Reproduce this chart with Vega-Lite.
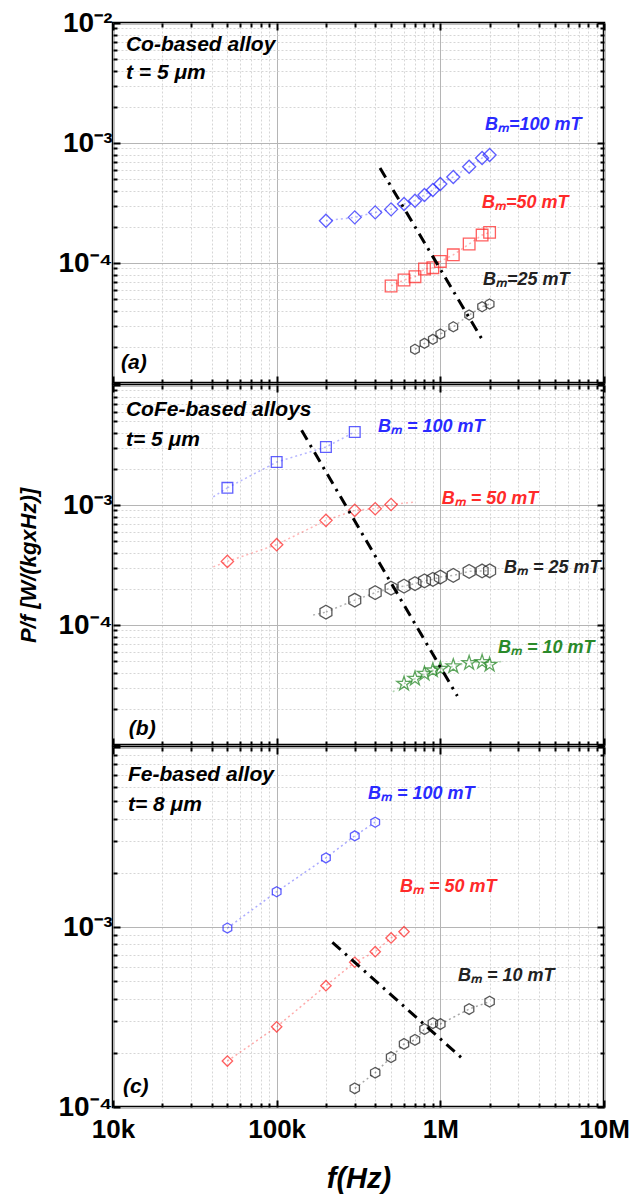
{
 "$schema": "https://vega.github.io/schema/vega-lite/v6.json",
 "background": "white",
 "padding": {"left": 15, "top": 7, "right": 5, "bottom": 3},
 "config": {
  "view": {"stroke": "black", "strokeWidth": 2.5},
  "font": "Liberation Sans",
  "axis": {"labelFont": "Liberation Sans", "titleFont": "Liberation Sans", "labelColor": "black", "titleColor": "black", "labelFontWeight": "bold", "titleFontWeight": "bold"}
 },
 "datasets": {
  "pts": [
   {"p":"a","B":100,"f":200000,"P":0.000225},{"p":"a","B":100,"f":300000,"P":0.00024},{"p":"a","B":100,"f":400000,"P":0.000264},{"p":"a","B":100,"f":500000,"P":0.00028},{"p":"a","B":100,"f":600000,"P":0.00031},{"p":"a","B":100,"f":700000,"P":0.00033},{"p":"a","B":100,"f":800000,"P":0.000369},{"p":"a","B":100,"f":900000,"P":0.000406},{"p":"a","B":100,"f":1000000,"P":0.000455},{"p":"a","B":100,"f":1200000,"P":0.000521},{"p":"a","B":100,"f":1500000,"P":0.000634},{"p":"a","B":100,"f":1800000,"P":0.00075},{"p":"a","B":100,"f":2000000,"P":0.000794},
   {"p":"a","B":50,"f":500000,"P":0.0000643},{"p":"a","B":50,"f":600000,"P":0.0000722},{"p":"a","B":50,"f":700000,"P":0.0000769},{"p":"a","B":50,"f":800000,"P":0.0000891},{"p":"a","B":50,"f":900000,"P":0.0000914},{"p":"a","B":50,"f":1000000,"P":0.000103},{"p":"a","B":50,"f":1200000,"P":0.000117},{"p":"a","B":50,"f":1500000,"P":0.000144},{"p":"a","B":50,"f":1800000,"P":0.000171},{"p":"a","B":50,"f":2000000,"P":0.00018},
   {"p":"a","B":25,"f":700000,"P":0.0000191},{"p":"a","B":25,"f":800000,"P":0.0000214},{"p":"a","B":25,"f":900000,"P":0.0000231},{"p":"a","B":25,"f":1000000,"P":0.0000256},{"p":"a","B":25,"f":1200000,"P":0.0000294},{"p":"a","B":25,"f":1500000,"P":0.0000369},{"p":"a","B":25,"f":1800000,"P":0.0000432},{"p":"a","B":25,"f":2000000,"P":0.0000455},
   {"p":"b","B":100,"f":50000,"P":0.00139},{"p":"b","B":100,"f":100000,"P":0.00228},{"p":"b","B":100,"f":200000,"P":0.00304},{"p":"b","B":100,"f":300000,"P":0.00406},
   {"p":"b","B":50,"f":50000,"P":0.000339},{"p":"b","B":50,"f":100000,"P":0.000467},{"p":"b","B":50,"f":200000,"P":0.000745},{"p":"b","B":50,"f":300000,"P":0.000903},{"p":"b","B":50,"f":400000,"P":0.000931},{"p":"b","B":50,"f":500000,"P":0.00101},
   {"p":"b","B":25,"f":200000,"P":0.000128},{"p":"b","B":25,"f":300000,"P":0.000161},{"p":"b","B":25,"f":400000,"P":0.000186},{"p":"b","B":25,"f":500000,"P":0.000203},{"p":"b","B":25,"f":600000,"P":0.000211},{"p":"b","B":25,"f":700000,"P":0.000221},{"p":"b","B":25,"f":800000,"P":0.000233},{"p":"b","B":25,"f":900000,"P":0.00024},{"p":"b","B":25,"f":1000000,"P":0.000251},{"p":"b","B":25,"f":1200000,"P":0.000259},{"p":"b","B":25,"f":1500000,"P":0.00028},{"p":"b","B":25,"f":1800000,"P":0.000282},{"p":"b","B":25,"f":2000000,"P":0.000283},
   {"p":"b","B":10,"f":600000,"P":0.0000324},{"p":"b","B":10,"f":700000,"P":0.0000357},{"p":"b","B":10,"f":800000,"P":0.0000393},{"p":"b","B":10,"f":900000,"P":0.0000419},{"p":"b","B":10,"f":1000000,"P":0.0000432},{"p":"b","B":10,"f":1200000,"P":0.0000453},{"p":"b","B":10,"f":1500000,"P":0.0000483},{"p":"b","B":10,"f":1800000,"P":0.0000492},{"p":"b","B":10,"f":2000000,"P":0.0000467},
   {"p":"c","B":100,"f":50000,"P":0.000987},{"p":"c","B":100,"f":100000,"P":0.00157},{"p":"c","B":100,"f":200000,"P":0.00242},{"p":"c","B":100,"f":300000,"P":0.00321},{"p":"c","B":100,"f":400000,"P":0.00382},
   {"p":"c","B":50,"f":50000,"P":0.00018},{"p":"c","B":50,"f":100000,"P":0.000279},{"p":"c","B":50,"f":200000,"P":0.000472},{"p":"c","B":50,"f":300000,"P":0.000637},{"p":"c","B":50,"f":400000,"P":0.000729},{"p":"c","B":50,"f":500000,"P":0.000869},{"p":"c","B":50,"f":600000,"P":0.000942},
   {"p":"c","B":10,"f":300000,"P":0.000127},{"p":"c","B":10,"f":400000,"P":0.000155},{"p":"c","B":10,"f":500000,"P":0.000189},{"p":"c","B":10,"f":600000,"P":0.000224},{"p":"c","B":10,"f":700000,"P":0.000236},{"p":"c","B":10,"f":800000,"P":0.000271},{"p":"c","B":10,"f":900000,"P":0.000292},{"p":"c","B":10,"f":1000000,"P":0.000289},{"p":"c","B":10,"f":1500000,"P":0.00035},{"p":"c","B":10,"f":2000000,"P":0.000385}
  ],
  "fits": [
   {"p":"b","B":100,"s":"b100l","f":41000,"P":0.00117},{"p":"b","B":100,"s":"b100l","f":50000,"P":0.00139},
   {"p":"b","B":50,"s":"b50l","f":41000,"P":0.000305},{"p":"b","B":50,"s":"b50l","f":50000,"P":0.000339},
   {"p":"b","B":50,"s":"b50r","f":500000,"P":0.00101},{"p":"b","B":50,"s":"b50r","f":700000,"P":0.00106},
   {"p":"b","B":25,"s":"b25l","f":167000,"P":0.000121},{"p":"b","B":25,"s":"b25l","f":200000,"P":0.000128},
   {"p":"b","B":10,"s":"b10l","f":513000,"P":0.0000277},{"p":"b","B":10,"s":"b10l","f":600000,"P":0.0000324},
   {"p":"b","B":10,"s":"b10r","f":2000000,"P":0.0000467},{"p":"b","B":10,"s":"b10r","f":2410000,"P":0.0000501}
  ],
  "guides": [
   {"p":"a","f":428000,"P":0.000619},{"p":"a","f":1820000,"P":0.0000225},
   {"p":"b","f":142000,"P":0.00419},{"p":"b","f":1270000,"P":0.0000256},
   {"p":"c","f":219000,"P":0.000822},{"p":"c","f":1390000,"P":0.000183}
  ],
  "labels": [
   {"p":"a","B":100,"t":"Bₘ=100 mT","f":1873000,"P":0.00141},
   {"p":"a","B":50,"t":"Bₘ=50 mT","f":1796000,"P":0.000316},
   {"p":"a","B":25,"t":"Bₘ=25 mT","f":1820000,"P":0.0000722},
   {"p":"b","B":100,"t":"Bₘ = 100 mT","f":416000,"P":0.00447},
   {"p":"b","B":50,"t":"Bₘ = 50 mT","f":1020000,"P":0.00112},
   {"p":"b","B":25,"t":"Bₘ = 25 mT","f":2450000,"P":0.000299},
   {"p":"b","B":10,"t":"Bₘ = 10 mT","f":2250000,"P":0.0000643},
   {"p":"c","B":100,"t":"Bₘ = 100 mT","f":361000,"P":0.00548},
   {"p":"c","B":50,"t":"Bₘ = 50 mT","f":566000,"P":0.00167},
   {"p":"c","B":10,"t":"Bₘ = 10 mT","f":1280000,"P":0.000535}
  ],
  "notes": [
   {"p":"a","t":"Co-based alloy","f":12000,"P":0.00656},
   {"p":"a","t":"t = 5 μm","f":12000,"P":0.00383},
   {"p":"a","t":"(a)","f":11190,"P":0.0000147},
   {"p":"b","t":"CoFe-based alloys","f":12000,"P":0.00619},
   {"p":"b","t":"t= 5 μm","f":12000,"P":0.00348},
   {"p":"b","t":"(b)","f":12500,"P":0.0000136},
   {"p":"c","t":"Fe-based alloy","f":12350,"P":0.00699},
   {"p":"c","t":"t= 8 μm","f":12350,"P":0.00476},
   {"p":"c","t":"(c)","f":11500,"P":0.000129}
  ]
 },
 "spacing": 2,
 "bounds": "flush",
 "resolve": {"scale": {"color": "independent", "shape": "independent", "size": "independent"}},
 "vconcat": [
  {
   "width": 491, "height": 360,
   "resolve": {"axis": {"x": "independent", "y": "independent"}},
   "layer": [
    {
     "data": {"name": "pts"},
     "transform": [{"filter": "datum.p=='a'"}],
     "mark": {"type": "line", "strokeDash": [2, 3], "strokeWidth": 1.5, "opacity": 0.35, "clip": true},
     "encoding": {
      "x": {"field": "f", "type": "quantitative", "scale": {"type": "log", "domain": [10000, 10000000], "nice": false},
       "axis": {"orient": "top", "values": [10000,20000,30000,40000,50000,60000,70000,80000,90000,100000,200000,300000,400000,500000,600000,700000,800000,900000,1000000,2000000,3000000,4000000,5000000,6000000,7000000,8000000,9000000,10000000], "labels": false, "title": null, "grid": false, "domain": false, "tickColor": "black", "tickWidth": 2, "tickSize": {"condition": {"test": "abs(log(datum.value)/LN10-round(log(datum.value)/LN10))<0.001", "value": -7}, "value": -4}}},
      "y": {"field": "P", "type": "quantitative", "scale": {"type": "log", "domain": [0.00001, 0.01], "nice": false},
       "axis": {"orient": "right", "values": [0.00001,0.00002,0.00003,0.00004,0.00005,0.00006,0.00007,0.00008,0.00009,0.0001,0.0002,0.0003,0.0004,0.0005,0.0006,0.0007,0.0008,0.0009,0.001,0.002,0.003,0.004,0.005,0.006,0.007,0.008,0.009,0.01], "labels": false, "title": null, "grid": false, "domain": false, "tickColor": "black", "tickWidth": 2, "tickSize": {"condition": {"test": "abs(log(datum.value)/LN10-round(log(datum.value)/LN10))<0.001", "value": -7}, "value": -4}}},
      "color": {"field": "B", "type": "nominal", "scale": {"domain": [100, 50, 25], "range": ["#2a2aff", "#ff2a2a", "#222222"]}, "legend": null}
     }
    },
    {
     "data": {"name": "pts"},
     "transform": [{"filter": "datum.p=='a'"}],
     "mark": {"type": "point", "filled": false, "strokeWidth": 1.3, "opacity": 0.75, "clip": true},
     "encoding": {
      "x": {"field": "f", "type": "quantitative",
       "axis": {"orient": "bottom", "values": [10000,20000,30000,40000,50000,60000,70000,80000,90000,100000,200000,300000,400000,500000,600000,700000,800000,900000,1000000,2000000,3000000,4000000,5000000,6000000,7000000,8000000,9000000,10000000], "labels": false, "title": null, "grid": true, "domain": false, "tickColor": "black", "tickWidth": 2, "tickSize": {"condition": {"test": "abs(log(datum.value)/LN10-round(log(datum.value)/LN10))<0.001", "value": -7}, "value": -4}, "gridColor": {"condition": {"test": "abs(log(datum.value)/LN10-round(log(datum.value)/LN10))<0.001", "value": "#b5b5b5"}, "value": "#d6d6d6"}, "gridDash": {"condition": {"test": "abs(log(datum.value)/LN10-round(log(datum.value)/LN10))<0.001", "value": []}, "value": [2, 2]}, "gridWidth": 1}},
      "y": {"field": "P", "type": "quantitative",
       "axis": {"orient": "left", "values": [0.00001,0.00002,0.00003,0.00004,0.00005,0.00006,0.00007,0.00008,0.00009,0.0001,0.0002,0.0003,0.0004,0.0005,0.0006,0.0007,0.0008,0.0009,0.001,0.002,0.003,0.004,0.005,0.006,0.007,0.008,0.009,0.01], "labelExpr": "datum.value==0.01?'10⁻²':datum.value==0.001?'10⁻³':datum.value==0.0001?'10⁻⁴':''", "labelFontSize": 28, "labelPadding": 8, "labelOverlap": false, "labelFlush": false, "title": null, "grid": true, "domain": false, "tickColor": "black", "tickWidth": 2, "tickSize": {"condition": {"test": "abs(log(datum.value)/LN10-round(log(datum.value)/LN10))<0.001", "value": -7}, "value": -4}, "gridColor": {"condition": {"test": "abs(log(datum.value)/LN10-round(log(datum.value)/LN10))<0.001", "value": "#b5b5b5"}, "value": "#d6d6d6"}, "gridDash": {"condition": {"test": "abs(log(datum.value)/LN10-round(log(datum.value)/LN10))<0.001", "value": []}, "value": [2, 2]}, "gridWidth": 1}},
      "color": {"field": "B", "type": "nominal", "legend": null},
      "shape": {"field": "B", "type": "nominal", "scale": {"domain": [100, 50, 25], "range": ["diamond", "square", "M0,-1L0.866,-0.5L0.866,0.5L0,1L-0.866,0.5L-0.866,-0.5Z"]}, "legend": null},
      "size": {"field": "B", "type": "ordinal", "scale": {"domain": [100, 50, 25], "range": [170, 100, 180]}, "legend": null}
     }
    },
    {
     "data": {"name": "guides"},
     "transform": [{"filter": "datum.p=='a'"}],
     "mark": {"type": "line", "color": "black", "strokeWidth": 3, "strokeDash": [11, 6, 2.5, 6], "clip": true},
     "encoding": {"x": {"field": "f", "type": "quantitative", "axis": null}, "y": {"field": "P", "type": "quantitative", "axis": null}}
    },
    {
     "data": {"name": "notes"},
     "transform": [{"filter": "datum.p=='a'"}],
     "mark": {"type": "text", "align": "left", "baseline": "middle", "fontSize": 21, "fontWeight": "bold", "fontStyle": "italic", "color": "black"},
     "encoding": {"x": {"field": "f", "type": "quantitative", "axis": null}, "y": {"field": "P", "type": "quantitative", "axis": null}, "text": {"field": "t"}}
    },
    {
     "data": {"name": "labels"},
     "transform": [{"filter": "datum.p=='a'"}],
     "mark": {"type": "text", "align": "left", "baseline": "middle", "fontSize": 18, "fontWeight": "bold", "fontStyle": "italic"},
     "encoding": {"x": {"field": "f", "type": "quantitative", "axis": null}, "y": {"field": "P", "type": "quantitative", "axis": null}, "text": {"field": "t"}, "color": {"field": "B", "type": "nominal", "legend": null}}
    }
   ]
  },
  {
   "width": 491, "height": 360,
   "resolve": {"axis": {"x": "independent", "y": "independent"}},
   "layer": [
    {
     "data": {"name": "pts"},
     "transform": [{"filter": "datum.p=='b'"}],
     "mark": {"type": "line", "strokeDash": [2, 3], "strokeWidth": 1.5, "opacity": 0.35, "clip": true},
     "encoding": {
      "x": {"field": "f", "type": "quantitative", "scale": {"type": "log", "domain": [10000, 10000000], "nice": false},
       "axis": {"orient": "top", "values": [10000,20000,30000,40000,50000,60000,70000,80000,90000,100000,200000,300000,400000,500000,600000,700000,800000,900000,1000000,2000000,3000000,4000000,5000000,6000000,7000000,8000000,9000000,10000000], "labels": false, "title": null, "grid": false, "domain": false, "tickColor": "black", "tickWidth": 2, "tickSize": {"condition": {"test": "abs(log(datum.value)/LN10-round(log(datum.value)/LN10))<0.001", "value": -7}, "value": -4}}},
      "y": {"field": "P", "type": "quantitative", "scale": {"type": "log", "domain": [0.00001, 0.01], "nice": false},
       "axis": {"orient": "right", "values": [0.00001,0.00002,0.00003,0.00004,0.00005,0.00006,0.00007,0.00008,0.00009,0.0001,0.0002,0.0003,0.0004,0.0005,0.0006,0.0007,0.0008,0.0009,0.001,0.002,0.003,0.004,0.005,0.006,0.007,0.008,0.009,0.01], "labels": false, "title": null, "grid": false, "domain": false, "tickColor": "black", "tickWidth": 2, "tickSize": {"condition": {"test": "abs(log(datum.value)/LN10-round(log(datum.value)/LN10))<0.001", "value": -7}, "value": -4}}},
      "color": {"field": "B", "type": "nominal", "scale": {"domain": [100, 50, 25, 10], "range": ["#2a2aff", "#ff2a2a", "#222222", "#2a8a2a"]}, "legend": null}
     }
    },
    {
     "data": {"name": "fits"},
     "transform": [{"filter": "datum.p=='b'"}],
     "mark": {"type": "line", "strokeDash": [2, 3], "strokeWidth": 1.5, "opacity": 0.35, "clip": true},
     "encoding": {"x": {"field": "f", "type": "quantitative", "axis": null}, "y": {"field": "P", "type": "quantitative", "axis": null}, "detail": {"field": "s"}, "color": {"field": "B", "type": "nominal", "legend": null}}
    },
    {
     "data": {"name": "pts"},
     "transform": [{"filter": "datum.p=='b'"}],
     "mark": {"type": "point", "filled": false, "strokeWidth": 1.3, "opacity": 0.75, "clip": true},
     "encoding": {
      "x": {"field": "f", "type": "quantitative",
       "axis": {"orient": "bottom", "values": [10000,20000,30000,40000,50000,60000,70000,80000,90000,100000,200000,300000,400000,500000,600000,700000,800000,900000,1000000,2000000,3000000,4000000,5000000,6000000,7000000,8000000,9000000,10000000], "labels": false, "title": null, "grid": true, "domain": false, "tickColor": "black", "tickWidth": 2, "tickSize": {"condition": {"test": "abs(log(datum.value)/LN10-round(log(datum.value)/LN10))<0.001", "value": -7}, "value": -4}, "gridColor": {"condition": {"test": "abs(log(datum.value)/LN10-round(log(datum.value)/LN10))<0.001", "value": "#b5b5b5"}, "value": "#d6d6d6"}, "gridDash": {"condition": {"test": "abs(log(datum.value)/LN10-round(log(datum.value)/LN10))<0.001", "value": []}, "value": [2, 2]}, "gridWidth": 1}},
      "y": {"field": "P", "type": "quantitative",
       "axis": {"orient": "left", "values": [0.00001,0.00002,0.00003,0.00004,0.00005,0.00006,0.00007,0.00008,0.00009,0.0001,0.0002,0.0003,0.0004,0.0005,0.0006,0.0007,0.0008,0.0009,0.001,0.002,0.003,0.004,0.005,0.006,0.007,0.008,0.009,0.01], "labelExpr": "datum.value==0.001?'10⁻³':datum.value==0.0001?'10⁻⁴':''", "labelFontSize": 28, "labelPadding": 8, "labelOverlap": false, "labelFlush": false, "title": "P/f [W/(kgxHz)]", "titleFontSize": 22, "titleFontStyle": "italic", "titlePadding": 18, "grid": true, "domain": false, "tickColor": "black", "tickWidth": 2, "tickSize": {"condition": {"test": "abs(log(datum.value)/LN10-round(log(datum.value)/LN10))<0.001", "value": -7}, "value": -4}, "gridColor": {"condition": {"test": "abs(log(datum.value)/LN10-round(log(datum.value)/LN10))<0.001", "value": "#b5b5b5"}, "value": "#d6d6d6"}, "gridDash": {"condition": {"test": "abs(log(datum.value)/LN10-round(log(datum.value)/LN10))<0.001", "value": []}, "value": [2, 2]}, "gridWidth": 1}},
      "color": {"field": "B", "type": "nominal", "legend": null},
      "shape": {"field": "B", "type": "nominal", "scale": {"domain": [100, 50, 25, 10], "range": ["square", "diamond", "M0,-1L0.866,-0.5L0.866,0.5L0,1L-0.866,0.5L-0.866,-0.5Z", "M0,-1L0.2245,-0.309L0.951,-0.309L0.3633,0.118L0.5878,0.809L0,0.382L-0.5878,0.809L-0.3633,0.118L-0.951,-0.309L-0.2245,-0.309Z"]}, "legend": null},
      "size": {"field": "B", "type": "ordinal", "scale": {"domain": [100, 50, 25, 10], "range": [115, 225, 200, 100]}, "legend": null}
     }
    },
    {
     "data": {"name": "guides"},
     "transform": [{"filter": "datum.p=='b'"}],
     "mark": {"type": "line", "color": "black", "strokeWidth": 3, "strokeDash": [11, 6, 2.5, 6], "clip": true},
     "encoding": {"x": {"field": "f", "type": "quantitative", "axis": null}, "y": {"field": "P", "type": "quantitative", "axis": null}}
    },
    {
     "data": {"name": "notes"},
     "transform": [{"filter": "datum.p=='b'"}],
     "mark": {"type": "text", "align": "left", "baseline": "middle", "fontSize": 21, "fontWeight": "bold", "fontStyle": "italic", "color": "black"},
     "encoding": {"x": {"field": "f", "type": "quantitative", "axis": null}, "y": {"field": "P", "type": "quantitative", "axis": null}, "text": {"field": "t"}}
    },
    {
     "data": {"name": "labels"},
     "transform": [{"filter": "datum.p=='b'"}],
     "mark": {"type": "text", "align": "left", "baseline": "middle", "fontSize": 18, "fontWeight": "bold", "fontStyle": "italic"},
     "encoding": {"x": {"field": "f", "type": "quantitative", "axis": null}, "y": {"field": "P", "type": "quantitative", "axis": null}, "text": {"field": "t"}, "color": {"field": "B", "type": "nominal", "legend": null}}
    }
   ]
  },
  {
   "width": 491, "height": 360,
   "resolve": {"axis": {"x": "independent", "y": "independent"}},
   "layer": [
    {
     "data": {"name": "pts"},
     "transform": [{"filter": "datum.p=='c'"}],
     "mark": {"type": "line", "strokeDash": [2, 3], "strokeWidth": 1.5, "opacity": 0.4, "clip": true},
     "encoding": {
      "x": {"field": "f", "type": "quantitative", "scale": {"type": "log", "domain": [10000, 10000000], "nice": false},
       "axis": {"orient": "top", "values": [10000,20000,30000,40000,50000,60000,70000,80000,90000,100000,200000,300000,400000,500000,600000,700000,800000,900000,1000000,2000000,3000000,4000000,5000000,6000000,7000000,8000000,9000000,10000000], "labels": false, "title": null, "grid": false, "domain": false, "tickColor": "black", "tickWidth": 2, "tickSize": {"condition": {"test": "abs(log(datum.value)/LN10-round(log(datum.value)/LN10))<0.001", "value": -7}, "value": -4}}},
      "y": {"field": "P", "type": "quantitative", "scale": {"type": "log", "domain": [0.0001, 0.01], "nice": false},
       "axis": {"orient": "right", "values": [0.0001,0.0002,0.0003,0.0004,0.0005,0.0006,0.0007,0.0008,0.0009,0.001,0.002,0.003,0.004,0.005,0.006,0.007,0.008,0.009,0.01], "labels": false, "title": null, "grid": false, "domain": false, "tickColor": "black", "tickWidth": 2, "tickSize": {"condition": {"test": "abs(log(datum.value)/LN10-round(log(datum.value)/LN10))<0.001", "value": -7}, "value": -4}}},
      "color": {"field": "B", "type": "nominal", "scale": {"domain": [100, 50, 10], "range": ["#2a2aff", "#ff2a2a", "#222222"]}, "legend": null}
     }
    },
    {
     "data": {"name": "pts"},
     "transform": [{"filter": "datum.p=='c'"}],
     "mark": {"type": "point", "filled": false, "strokeWidth": 1.3, "opacity": 0.75, "clip": true},
     "encoding": {
      "x": {"field": "f", "type": "quantitative",
       "axis": {"orient": "bottom", "values": [10000,20000,30000,40000,50000,60000,70000,80000,90000,100000,200000,300000,400000,500000,600000,700000,800000,900000,1000000,2000000,3000000,4000000,5000000,6000000,7000000,8000000,9000000,10000000], "labelExpr": "datum.value==10000?'10k':datum.value==100000?'100k':datum.value==1000000?'1M':datum.value==10000000?'10M':''", "labelFontSize": 26, "labelPadding": 16, "labelOverlap": false, "labelFlush": false, "title": "f(Hz)", "titleFontSize": 29, "titleFontStyle": "italic", "titlePadding": 19, "grid": true, "domain": false, "tickColor": "black", "tickWidth": 2, "tickSize": {"condition": {"test": "abs(log(datum.value)/LN10-round(log(datum.value)/LN10))<0.001", "value": -7}, "value": -4}, "gridColor": {"condition": {"test": "abs(log(datum.value)/LN10-round(log(datum.value)/LN10))<0.001", "value": "#b5b5b5"}, "value": "#d6d6d6"}, "gridDash": {"condition": {"test": "abs(log(datum.value)/LN10-round(log(datum.value)/LN10))<0.001", "value": []}, "value": [2, 2]}, "gridWidth": 1}},
      "y": {"field": "P", "type": "quantitative",
       "axis": {"orient": "left", "values": [0.0001,0.0002,0.0003,0.0004,0.0005,0.0006,0.0007,0.0008,0.0009,0.001,0.002,0.003,0.004,0.005,0.006,0.007,0.008,0.009,0.01], "labelExpr": "datum.value==0.001?'10⁻³':datum.value==0.0001?'10⁻⁴':''", "labelFontSize": 28, "labelPadding": 8, "labelOverlap": false, "labelFlush": false, "title": null, "grid": true, "domain": false, "tickColor": "black", "tickWidth": 2, "tickSize": {"condition": {"test": "abs(log(datum.value)/LN10-round(log(datum.value)/LN10))<0.001", "value": -7}, "value": -4}, "gridColor": {"condition": {"test": "abs(log(datum.value)/LN10-round(log(datum.value)/LN10))<0.001", "value": "#b5b5b5"}, "value": "#d6d6d6"}, "gridDash": {"condition": {"test": "abs(log(datum.value)/LN10-round(log(datum.value)/LN10))<0.001", "value": []}, "value": [2, 2]}, "gridWidth": 1}},
      "color": {"field": "B", "type": "nominal", "legend": null},
      "shape": {"field": "B", "type": "nominal", "scale": {"domain": [100, 50, 10], "range": ["M0,-1L0.866,-0.5L0.866,0.5L0,1L-0.866,0.5L-0.866,-0.5Z", "diamond", "M0,-1L0.866,-0.5L0.866,0.5L0,1L-0.866,0.5L-0.866,-0.5Z"]}, "legend": null},
      "size": {"field": "B", "type": "ordinal", "scale": {"domain": [100, 50, 10], "range": [100, 115, 110]}, "legend": null}
     }
    },
    {
     "data": {"name": "guides"},
     "transform": [{"filter": "datum.p=='c'"}],
     "mark": {"type": "line", "color": "black", "strokeWidth": 3, "strokeDash": [11, 6, 2.5, 6], "clip": true},
     "encoding": {"x": {"field": "f", "type": "quantitative", "axis": null}, "y": {"field": "P", "type": "quantitative", "axis": null}}
    },
    {
     "data": {"name": "notes"},
     "transform": [{"filter": "datum.p=='c'"}],
     "mark": {"type": "text", "align": "left", "baseline": "middle", "fontSize": 21, "fontWeight": "bold", "fontStyle": "italic", "color": "black"},
     "encoding": {"x": {"field": "f", "type": "quantitative", "axis": null}, "y": {"field": "P", "type": "quantitative", "axis": null}, "text": {"field": "t"}}
    },
    {
     "data": {"name": "labels"},
     "transform": [{"filter": "datum.p=='c'"}],
     "mark": {"type": "text", "align": "left", "baseline": "middle", "fontSize": 18, "fontWeight": "bold", "fontStyle": "italic"},
     "encoding": {"x": {"field": "f", "type": "quantitative", "axis": null}, "y": {"field": "P", "type": "quantitative", "axis": null}, "text": {"field": "t"}, "color": {"field": "B", "type": "nominal", "legend": null}}
    }
   ]
  }
 ]
}
